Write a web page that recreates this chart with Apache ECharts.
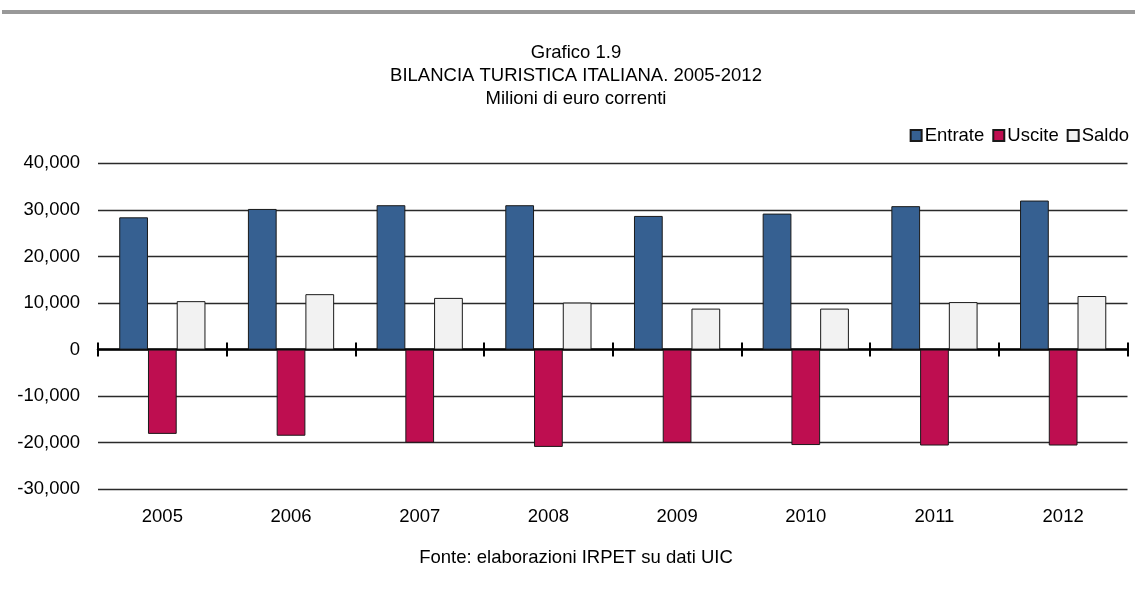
<!DOCTYPE html>
<html>
<head>
<meta charset="utf-8">
<script src="https://cdn.jsdelivr.net/npm/echarts@6/dist/echarts.min.js"></script>
<style>
html,body{margin:0;padding:0;background:#fff;}
#chart{width:1135px;height:589px;}
</style>
</head>
<body>
<div id="chart"></div>
<script>
var years = ['2005','2006','2007','2008','2009','2010','2011','2012'];
var entrate = [28400, 30200, 31000, 31000, 28700, 29200, 30800, 32000];
var uscite = [-18100, -18500, -20000, -20900, -20000, -20500, -20600, -20600];
var saldo = [10400, 11900, 11100, 10100, 8800, 8800, 10200, 11500];
var seriesNames = ['Entrate', 'Uscite', 'Saldo'];
var titleLines = ['Grafico 1.9', 'BILANCIA TURISTICA ITALIANA. 2005-2012', 'Milioni di euro correnti'];
var sourceText = 'Fonte: elaborazioni IRPET su dati UIC';

var FONT = '"Liberation Sans Narrow", "Arial Narrow", "Liberation Sans", Arial, sans-serif';
var FS = 18.5;
var chart = echarts.init(document.getElementById('chart'), null, {renderer: 'canvas'});

function fmt(v){
  var s = Math.abs(v).toString().replace(/\B(?=(\d{3})+(?!\d))/g, ',');
  return (v < 0 ? '-' : '') + s;
}

var barCommon = {
  type: 'bar',
  xAxisIndex: 0,
  yAxisIndex: 0,
  barGap: '0%',
  barCategoryGap: '33%'
};

function txt(x, y, t){
  return {type: 'text', silent: true, style: {x: x, y: y, text: t, font: FS + 'px ' + FONT, fill: '#000', textAlign: 'center', textVerticalAlign: 'middle'}};
}

var option = {
  animation: false,
  backgroundColor: '#ffffff',
  textStyle: {fontFamily: FONT},
  graphic: [
    {type: 'rect', shape: {x: 2, y: 10, width: 1133, height: 4}, style: {fill: '#999999'}, silent: true},
    txt(576, 53, titleLines[0]),
    txt(576, 76, titleLines[1]),
    txt(576, 99, titleLines[2]),
    txt(576, 558, sourceText)
  ],
  legend: {
    data: seriesNames,
    right: 1,
    top: 121,
    itemWidth: 11,
    itemHeight: 11,
    itemGap: 8,
    icon: 'rect',
    textStyle: {fontSize: FS, color: '#000', fontFamily: FONT, padding: [0, 0, 0, -2]}
  },
  grid: {left: 98, right: 7.5, top: 163.3, bottom: 99.7, containLabel: false},
  xAxis: [
    {
      type: 'category', data: years, position: 'bottom',
      axisLine: {show: false, onZero: false},
      axisTick: {show: false},
      axisLabel: {fontSize: FS, color: '#000', margin: 18, fontFamily: FONT},
      splitLine: {show: false}
    },
    {
      type: 'category', data: years, position: 'bottom',
      axisLine: {show: true, onZero: true, onZeroAxisIndex: 0, lineStyle: {color: '#000', width: 2.5}},
      axisTick: {show: true, inside: false, length: 7, lineStyle: {color: '#000', width: 2}},
      axisLabel: {show: false},
      splitLine: {show: false}
    },
    {
      type: 'category', data: years, position: 'bottom',
      axisLine: {show: false, onZero: true, onZeroAxisIndex: 0},
      axisTick: {show: true, inside: true, length: 7, lineStyle: {color: '#000', width: 2}},
      axisLabel: {show: false},
      splitLine: {show: false}
    }
  ],
  yAxis: {
    type: 'value', min: -30000, max: 40000, interval: 10000,
    axisLine: {show: false},
    axisTick: {show: false},
    axisLabel: {fontSize: FS, color: '#000', margin: 18, fontFamily: FONT, formatter: fmt},
    splitLine: {lineStyle: {color: '#2a2a2a', width: 1.3}}
  },
  series: [
    Object.assign({}, barCommon, {name: seriesNames[0], data: entrate, itemStyle: {color: '#366091', borderColor: '#1a1a1a', borderWidth: 1}}),
    Object.assign({}, barCommon, {name: seriesNames[1], data: uscite, itemStyle: {color: '#be0e50', borderColor: '#1a1a1a', borderWidth: 1}}),
    Object.assign({}, barCommon, {name: seriesNames[2], data: saldo, itemStyle: {color: '#f2f2f2', borderColor: '#1a1a1a', borderWidth: 1}})
  ]
};
chart.setOption(option);
</script>
</body>
</html>
